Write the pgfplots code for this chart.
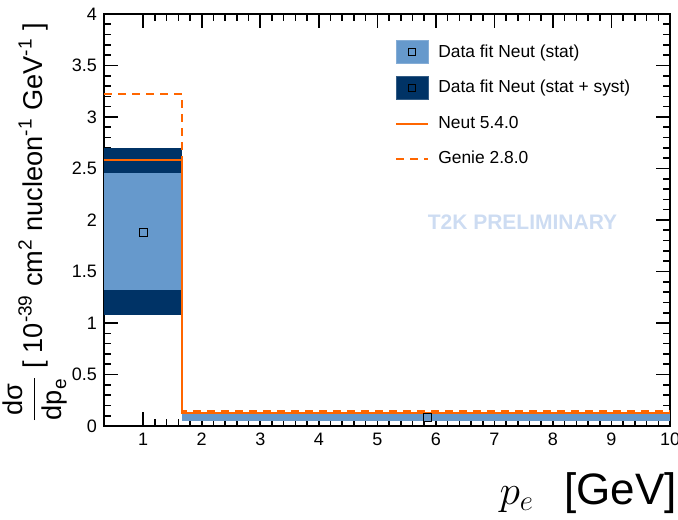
\documentclass[border=0pt]{standalone}
\usepackage{fontspec}
\setmainfont{Liberation Sans}
\usepackage{pgfplots}
\pgfplotsset{compat=1.18}
\definecolor{statblue}{HTML}{6699CC}
\definecolor{systblue}{HTML}{003366}
\definecolor{rootorange}{HTML}{FF6600}
\definecolor{wm}{HTML}{CDDCF2}
\begin{document}
\begin{tikzpicture}
\begin{axis}[
  at={(0,0)}, anchor=south west,
  scale only axis, width=283pt, height=206pt,
  xmin=0.33, xmax=10, ymin=0, ymax=4,
  xtick={1,2,3,4,5,6,7,8,9,10},
  ytick={0,0.5,1,1.5,2,2.5,3,3.5,4},
  minor x tick num=4, minor y tick num=4,
  tick align=inside, tick pos=both, ticklabel pos=left,
  major tick length=7pt, minor tick length=3.5pt,
  every tick/.style={black, line width=0.8pt},
  axis line style={line width=1pt},
  /pgf/number format/assume math mode=true,
  tick label style={font=\fontsize{9}{10}\selectfont},
  xlabel={$p_{e}$\ \ \hspace{3pt}[GeV]},
  xlabel style={at={(axis description cs:1,0)}, anchor=base east, yshift=-39pt, xshift=7pt, font=\fontsize{22}{26}\selectfont},
  ylabel={$\displaystyle\frac{\mbox{dσ}}{\mbox{dp\textsubscript{e}}}$ [ 10\textsuperscript{-39} cm\textsuperscript{2} nucleon\textsuperscript{-1} GeV\textsuperscript{-1} ]},
  ylabel style={at={(axis description cs:-0.1095,0.493)}, anchor=base, font=\fontsize{13.6}{16}\selectfont},
  legend style={at={(axis description cs:0.514,0.937)}, anchor=north west, draw=none, fill=none,
    font=\fontsize{8.7}{10}\selectfont, row sep=6pt, inner sep=0pt,
    /tikz/every odd column/.append style={column sep=2.5pt}},
  legend cell align=left,
]
% bands (stat+syst under stat)
\addplot[fill=systblue, draw=none, forget plot] coordinates {(0.33,1.08) (1.67,1.08) (1.67,2.70) (0.33,2.70)} --cycle;
\addplot[fill=statblue, draw=none, forget plot] coordinates {(0.33,1.32) (1.67,1.32) (1.67,2.46) (0.33,2.46)} --cycle;
\addplot[fill=systblue, draw=none, forget plot] coordinates {(1.67,0.045) (10,0.045) (10,0.125) (1.67,0.125)} --cycle;
\addplot[fill=statblue, draw=none, forget plot] coordinates {(1.67,0.05) (10,0.05) (10,0.12) (1.67,0.12)} --cycle;
% MC histograms
\addplot[rootorange, line width=1pt, const plot, forget plot] coordinates {(0.33,2.58) (1.67,0.13) (10,0.13)};
\addplot[rootorange, line width=1pt, dash pattern=on 4pt off 3pt, const plot, forget plot] coordinates {(0.33,3.22) (1.67,0.145) (10,0.145)};
% data points
\addplot[only marks, mark=square, mark size=2pt, mark options={black, line width=0.5pt}, forget plot] coordinates {(1,1.88) (5.85,0.085)};
\node[text=wm, font=\bfseries\fontsize{10.5}{12}\selectfont] at (axis cs:7.48,1.98) {T2K PRELIMINARY};
% legend
\addlegendimage{legend image code/.code={\draw[fill=statblue, draw=statblue!80!white] (0cm,-5.75pt) rectangle (16pt,5.75pt); \draw[black, line width=0.5pt] (8pt-1.75pt,-1.75pt) rectangle (8pt+1.75pt,1.75pt);}}
\addlegendentry{Data fit Neut (stat)}
\addlegendimage{legend image code/.code={\draw[fill=systblue, draw=systblue!80!white] (0cm,-5.75pt) rectangle (16pt,5.75pt); \draw[black, line width=0.5pt] (8pt-1.75pt,-1.75pt) rectangle (8pt+1.75pt,1.75pt);}}
\addlegendentry{Data fit Neut (stat + syst)}
\addlegendimage{rootorange, line width=1pt, legend image code/.code={\draw (0pt,0pt) -- (16pt,0pt);}}
\addlegendentry{Neut 5.4.0}
\addlegendimage{rootorange, line width=1pt, dash pattern=on 4pt off 3pt, legend image code/.code={\draw (0pt,0pt) -- (16pt,0pt);}}
\addlegendentry{Genie 2.8.0}
\end{axis}
\pgfresetboundingbox
\useasboundingbox (-52pt,-46.5pt) rectangle (287pt,213pt);
\end{tikzpicture}
\end{document}
